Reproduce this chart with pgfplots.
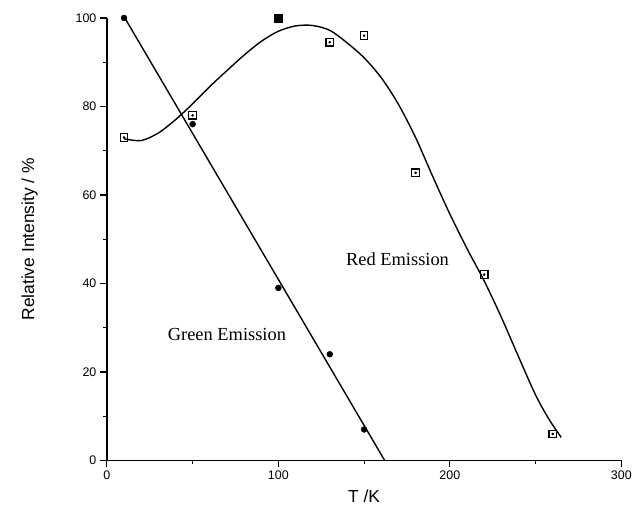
\documentclass[border=0pt]{standalone}
\usepackage{pgfplots}
\pgfplotsset{compat=1.18}
\usepackage{fontspec}
\setmainfont{Liberation Sans}
\newfontfamily\serifann{Liberation Serif}

\begin{document}
\begin{tikzpicture}
\begin{axis}[
    scale only axis,
    width=515bp, height=443bp,
    xmin=0, xmax=300,
    ymin=0, ymax=100,
    axis x line*=bottom,
    axis y line*=left,
    axis line style={-, line width=1.5pt},
    xtick={0,100,200,300},
    ytick={0,20,40,60,80,100},
    minor xtick={50,150,250},
    minor ytick={10,30,50,70,90},
    tick align=outside,
    major tick length=7pt,
    minor tick length=4pt,
    every tick/.style={black, line width=1.2pt},
    tick label style={font=\fontsize{12.5}{13}\selectfont},
    /pgf/number format/assume math mode=true,
    xlabel={T /K},
    ylabel={Relative Intensity / \%},
    xlabel style={font=\fontsize{17.5}{19}\selectfont, at={(axis description cs:0.5,-0.081)}, anchor=center},
    ylabel style={font=\fontsize{17.5}{19}\selectfont, at={(axis description cs:-0.15,0.5)}, anchor=center},
    clip=false,
]
% green emission: fitted line and data
\addplot[black, line width=1.4pt] coordinates {(10,100.3)(162,0)};
\addplot[only marks, mark=*, mark size=3pt, black] coordinates {
    (10,100)(50,76)(100,39)(130,24)(150,7)
};
% red emission: smooth curve and data
\addplot[black, line width=1.4pt, smooth] coordinates {
    (10,72.7)(20,72.3)(30,74)(40,77)(50,80.6)(60,84.5)(70,88.1)(80,91.6)
    (90,94.7)(100,97)(110,98.2)(120,98.3)(130,97.2)(140,94.4)(150,91)
    (160,86.5)(170,80.5)(180,73)(190,64.2)(200,55.7)(210,47.9)(220,40.6)
    (230,32.4)(240,23.5)(250,14.8)(258,9.2)(265,5.2)
};
\addplot[only marks, mark=square, mark size=3.8pt, mark options={line width=1.2pt}, black] coordinates {
    (10,73)(50,78)(130,94.5)(150,96)(180,65)(220,42)(260,6)
};
\addplot[only marks, mark=*, mark size=1.1pt, black] coordinates {
    (10,73)(50,78)(130,94.5)(150,96)(180,65)(220,42)(260,6)
};
\addplot[only marks, mark=square*, mark size=4pt, black] coordinates {(100,100)};
\node[font=\serifann\fontsize{18.5}{20}\selectfont] at (axis cs:169.5,45.4) {Red Emission};
\node[font=\serifann\fontsize{18.5}{20}\selectfont] at (axis cs:70,28.4) {Green Emission};
\coordinate (bbl) at (rel axis cs:-0.2078,-0.1196);
\coordinate (btr) at (rel axis cs:1.0252,1.0406);
\end{axis}
\useasboundingbox (bbl) rectangle (btr);
\end{tikzpicture}
\end{document}
